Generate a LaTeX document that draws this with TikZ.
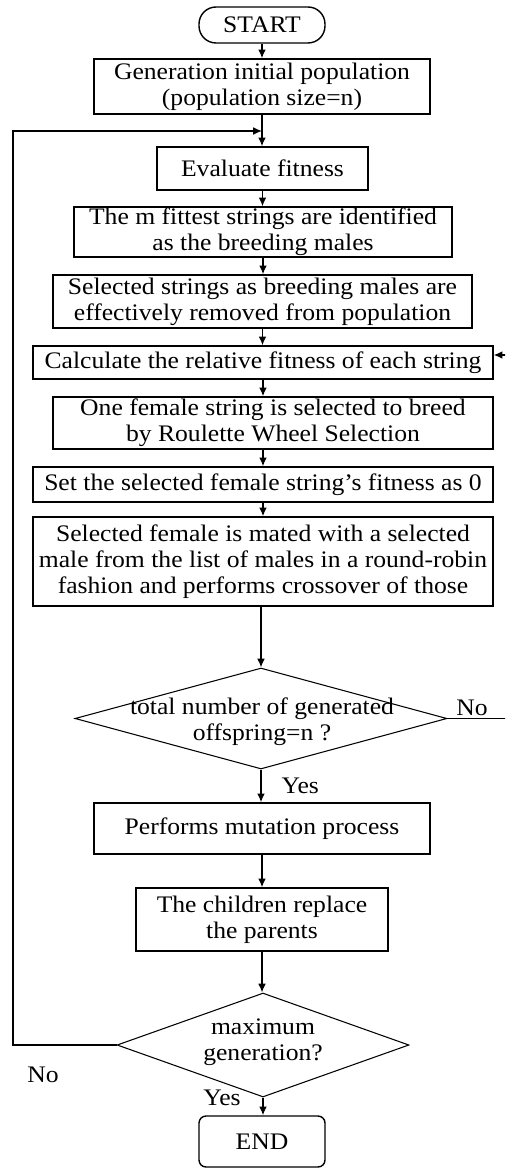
\documentclass[tikz,border=0pt]{standalone}
\usepackage{fontspec}
\setmainfont{Liberation Serif}[FakeStretch=1.08]
\usetikzlibrary{arrows.meta,positioning,shapes.geometric}

\begin{document}
\begin{tikzpicture}[
  x=0.02cm, y=-0.02cm,
  font=\fontsize{13.5}{14.8}\selectfont,
  >={Latex[length=5pt,width=4.4pt]},
  box/.style    ={draw,line width=0.8pt,inner sep=0pt,align=center},
  term/.style   ={box,rounded corners=0.34cm},
  endbox/.style ={box,rounded corners=0.14cm},
  decision/.style={draw,line width=0.6pt,diamond,aspect=3.6,inner sep=0pt},
  arrow/.style  ={->,line width=0.8pt}
]
% page frame (keeps the reference margins, cuts the right loop)
\clip (0,0) rectangle (505,1168);

% ==================================================
% MAIN CHAIN
% ==================================================
\node[term, minimum width=2.52cm, minimum height=0.72cm] (start) at (262,25) {START};
\node[box, minimum width=6.72cm, minimum height=1.10cm] (init) at (262,86.5)
  {Generation initial population\\(population size=n)};
\node[box, minimum width=4.22cm, minimum height=0.86cm] (eval) at (262.5,168.5)
  {Evaluate fitness};
\node[box, minimum width=7.56cm, minimum height=1.00cm] (fittest) at (263,232)
  {The m fittest strings are identified\\as the breeding males};
\node[box, minimum width=8.38cm, minimum height=1.06cm] (removed) at (262.5,301.5)
  {Selected strings as breeding males are\\effectively removed from population};
\node[box, minimum width=9.20cm, minimum height=0.66cm] (relfit) at (263,362.5)
  {Calculate the relative fitness of each string};
\node[box, minimum width=8.80cm, minimum height=1.04cm] (female) at (273,423)
  {One female string is selected to breed\\by Roulette Wheel Selection};
\node[box, minimum width=9.20cm, minimum height=0.70cm] (zero) at (263,484.5)
  {Set the selected female string's fitness as 0};
\node[box, minimum width=9.20cm, minimum height=1.78cm] (mate) at (263,561.5)
  {Selected female is mated with a selected\\male from the list of males in a round-robin\\fashion and performs crossover of those};

% diamond kept at its size, text laid over it
\node[decision, minimum width=7.44cm, minimum height=2.02cm] (check) at (261,718.5) {};
\node[align=center] (checktxt) at (262,722) {total number of generated\\offspring=n ?};

\node[box, minimum width=6.72cm, minimum height=1.02cm] (mutate) at (262,828.5)
  {Performs mutation process};
\node[box, minimum width=5.04cm, minimum height=1.26cm] (replace) at (262,919.5)
  {The children replace\\the parents};

\node[decision, minimum width=5.84cm, minimum height=2.08cm] (maxgen) at (263,1045) {};
\node[align=center] (maxgentxt) at (263,1042) {maximum\\generation?};

\node[endbox, minimum width=2.52cm, minimum height=1.02cm] (end) at (262,1141.5) {END};

% loop corners
\coordinate (join)  at (262,131);
\coordinate (loopL) at (13,131);
\coordinate (loopR) at (520,355);

% ==================================================
% CONNECTORS
% ==================================================
\draw[arrow] (start)   -- (init);
\draw[line width=0.8pt] (init.south) -- (join);
\draw[arrow] (join)    -- (join |- eval.north);
\draw[arrow] (eval)    -- (eval.south |- fittest.north);
\draw[arrow] (fittest) -- (fittest.south |- removed.north);
\draw[arrow] (removed) -- (removed.south |- relfit.north);
\draw[arrow] (relfit)  -- (relfit.south |- female.north);
\draw[arrow] (relfit.south |- female.south) -- (relfit.south |- zero.north);
\draw[arrow] (zero)    -- (zero.south |- mate.north);
\draw[arrow] (mate.south -| check.north) -- (check.north);
\draw[arrow] (check.south) -- node[right, xshift=8pt]{Yes} (check.south |- mutate.north);
\draw[arrow] (mutate)  -- (replace);
\draw[arrow] (replace.south) -- (replace.south |- maxgen.north);
\draw[arrow] (maxgen.south) -- (maxgen.south |- end.north);

% back loops
\draw[arrow] (maxgen.west) -| (loopL) -- (join);
\draw[arrow] (check.east) -| (loopR) -- (relfit.east |- loopR);

% branch labels
\node (noR)  at (472,708)  {No};
\node (noL)  at (43,1075)  {No};
\node (yesB) at (222,1098) {Yes};
\end{tikzpicture}
\end{document}
